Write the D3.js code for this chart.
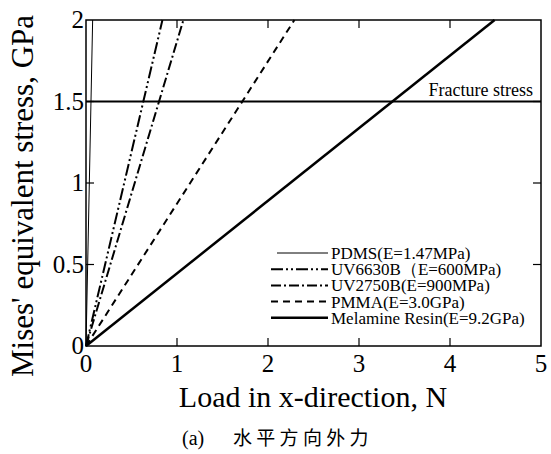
<!DOCTYPE html>
<html>
<head>
<meta charset="utf-8">
<script src="https://cdn.jsdelivr.net/npm/d3@7/dist/d3.min.js"></script>
<style>
  body { margin: 0; background: #fff; }
  text { font-family: "Liberation Serif", "Times New Roman", serif; fill: #000; }
</style>
</head>
<body>
<svg width="551" height="454"></svg>
<script>
// data: load (N) vs stress (GPa)
var materials = ['PDMS(E=1.47MPa)', 'UV6630B（E=600MPa)', 'UV2750B(E=900MPa)', 'PMMA(E=3.0GPa)', 'Melamine Resin(E=9.2GPa)'];
var loadAt2GPa = [0.073, 0.84, 1.07, 2.29, 4.49];
var fractureStress = 1.5;
var xTicks = [0, 1, 2, 3, 4, 5];
var yTicks = [0, 0.5, 1, 1.5, 2];
var yTickLabels = ['0', '0.5', '1', '1.5', '2'];

var dashes = [null, '12,3,2,3,2,3', '10,3,2,3', '7,5', null];
var widths = [1, 2, 2, 2, 2.5];

var svg = d3.select('svg');
var m = { left: 86, right: 541, top: 20, bottom: 346 };

var x = d3.scaleLinear().domain([0, 5]).range([m.left, m.right]);
var y = d3.scaleLinear().domain([0, 2]).range([m.bottom, m.top]);

// frame
svg.append('rect')
  .attr('x', m.left).attr('y', m.top)
  .attr('width', m.right - m.left).attr('height', m.bottom - m.top)
  .attr('fill', 'none').attr('stroke', '#000').attr('stroke-width', 1.5);

// inward ticks on all sides
var inner = xTicks.slice(1, -1);
var innerY = yTicks.slice(1, -1);
var tk = svg.append('g').attr('stroke', '#000').attr('stroke-width', 1.2);
tk.selectAll('.xb').data(inner).enter().append('line')
  .attr('x1', x).attr('x2', x).attr('y1', m.bottom).attr('y2', m.bottom - 8);
tk.selectAll('.xt').data(inner).enter().append('line')
  .attr('x1', x).attr('x2', x).attr('y1', m.top).attr('y2', m.top + 8);
tk.selectAll('.yl').data(innerY).enter().append('line')
  .attr('y1', y).attr('y2', y).attr('x1', m.left).attr('x2', m.left + 8);
tk.selectAll('.yr').data(innerY).enter().append('line')
  .attr('y1', y).attr('y2', y).attr('x1', m.right).attr('x2', m.right - 8);

// tick labels
svg.append('g').selectAll('text').data(xTicks).enter().append('text')
  .attr('x', x).attr('y', 372)
  .attr('text-anchor', 'middle').attr('font-size', 25)
  .text(function(d) { return d; });
svg.append('g').selectAll('text').data(yTicks).enter().append('text')
  .attr('x', 84).attr('y', function(d) { return y(d) + 8; })
  .attr('text-anchor', 'end').attr('font-size', 25)
  .text(function(d, i) { return yTickLabels[i]; });

// fracture stress
svg.append('line')
  .attr('x1', m.left).attr('x2', m.right)
  .attr('y1', y(fractureStress)).attr('y2', y(fractureStress))
  .attr('stroke', '#000').attr('stroke-width', 2);
svg.append('text')
  .attr('x', 533).attr('y', 96)
  .attr('text-anchor', 'end').attr('font-size', 18)
  .text('Fracture stress');

// material lines
var line = d3.line().x(function(d) { return x(d[0]); }).y(function(d) { return y(d[1]); });
svg.append('g').selectAll('path').data(loadAt2GPa).enter().append('path')
  .attr('d', function(d) { return line([[0, 0], [d, 2]]); })
  .attr('fill', 'none').attr('stroke', '#000')
  .attr('stroke-width', function(d, i) { return widths[i]; })
  .attr('stroke-dasharray', function(d, i) { return dashes[i]; });

// legend
var lg = svg.append('g').selectAll('g').data(materials).enter().append('g')
  .attr('transform', function(d, i) { return 'translate(0,' + (253 + i * 16.2) + ')'; });
lg.append('line')
  .attr('x1', function(d, i) { return i == 0 ? 277 : 271; }).attr('x2', 328)
  .attr('stroke', '#000')
  .attr('stroke-width', function(d, i) { return widths[i]; })
  .attr('stroke-dasharray', function(d, i) { return dashes[i]; });
lg.append('text')
  .attr('x', 331).attr('y', 6).attr('font-size', 17)
  .text(function(d) { return d; });

// axis titles
svg.append('text')
  .attr('x', 313).attr('y', 407)
  .attr('text-anchor', 'middle').attr('font-size', 30)
  .text('Load in x-direction, N');
svg.append('text')
  .attr('transform', 'translate(33,196) rotate(-90)')
  .attr('text-anchor', 'middle').attr('font-size', 31)
  .text("Mises' equivalent stress, GPa");

// caption
svg.append('text')
  .attr('x', 182).attr('y', 445).attr('font-size', 20)
  .text('(a)');
svg.append('text')
  .attr('x', 233).attr('y', 445).attr('font-size', 19)
  .attr('letter-spacing', 4.3)
  .style('font-family', '"Noto Sans CJK SC", sans-serif')
  .text('水平方向外力');
</script>
</body>
</html>
